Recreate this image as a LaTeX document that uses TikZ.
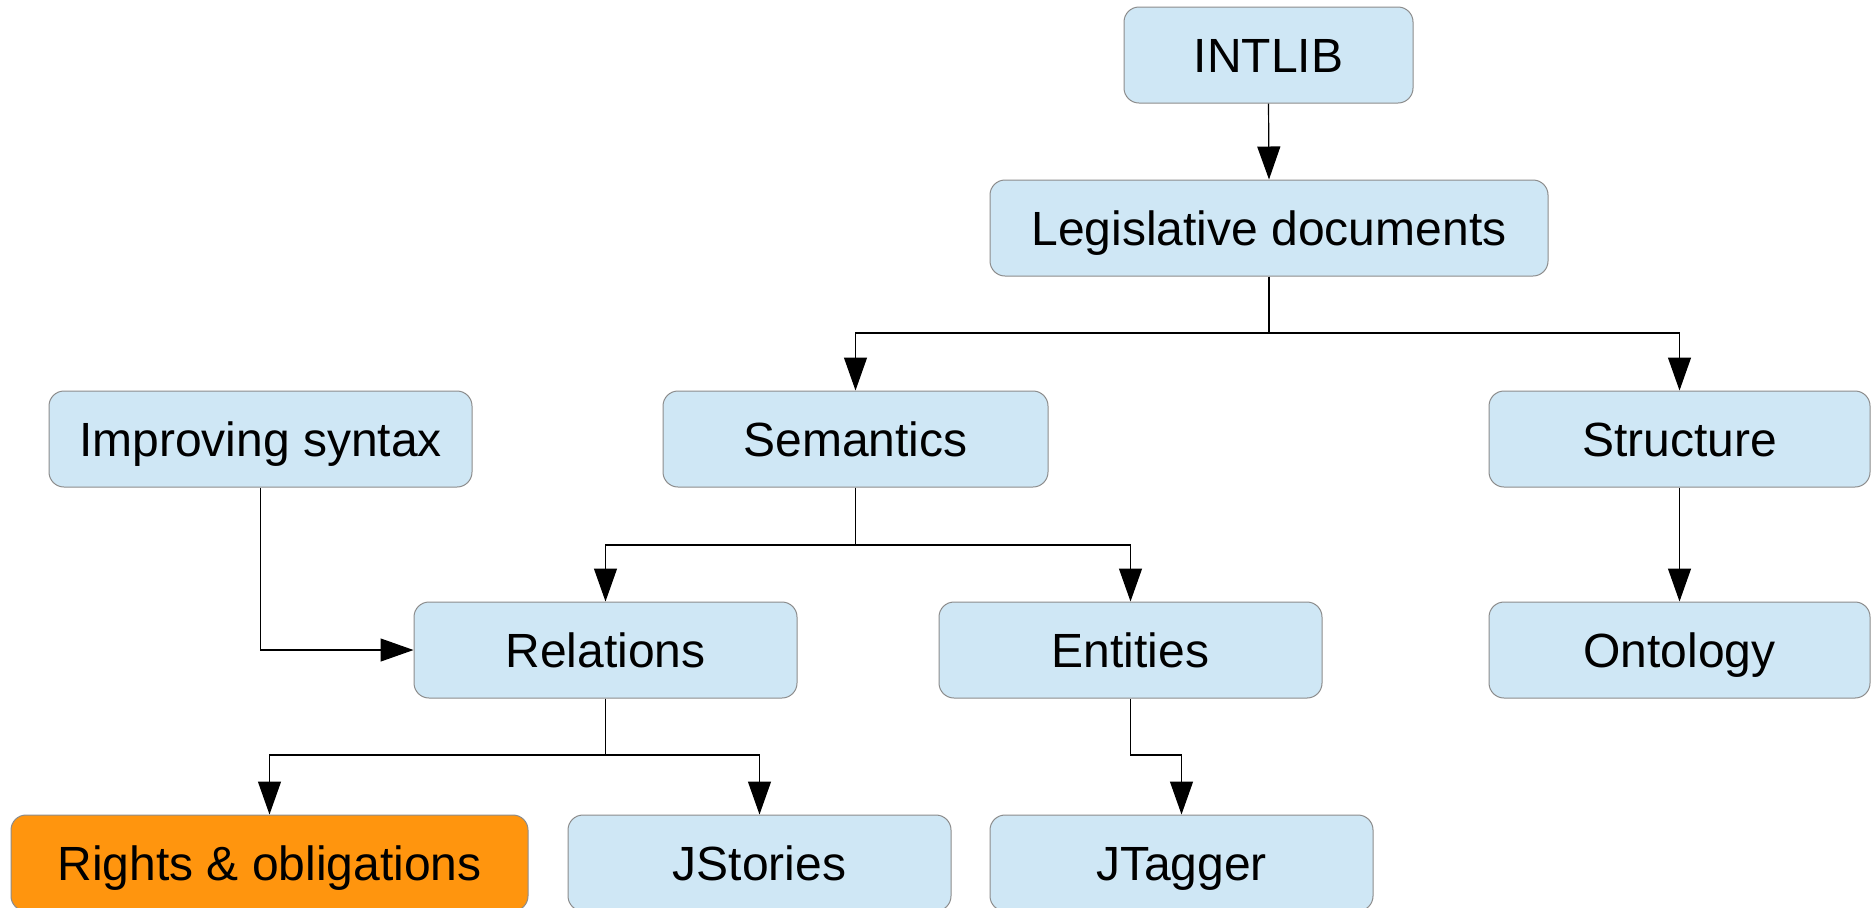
\documentclass[tikz,border=0pt]{standalone}
\usepackage{fontspec}
\setmainfont{Liberation Sans}
\usetikzlibrary{arrows.meta}
\definecolor{boxblue}{HTML}{CFE7F5}
\definecolor{boxorange}{HTML}{FF950E}
\definecolor{boxline}{HTML}{8C8C8C}
\begin{document}
\begin{tikzpicture}[x=0.5pt,y=-0.5pt,
  box/.style={draw=boxline, line width=0.5pt, fill=boxblue, rounded corners=7.5pt,
    minimum height=48pt, inner sep=0pt, text height=17.2pt, text depth=0pt,
    font=\fontsize{24pt}{28pt}\selectfont},
  hot/.style={box, fill=boxorange},
  conn/.style={draw=black, line width=0.6pt, -{Triangle[length=16.5pt,width=11.5pt]}}]
  \useasboundingbox (0,0) rectangle (1871,907);
  % tree of tasks
  \node[box, minimum width=144.5pt] (intlib) at (1268.5,55) {INTLIB};
  \node[box, minimum width=279pt] (legis) at (1269,228) {Legislative documents};
  \node[box, minimum width=211.5pt] (syntax) at (260.5,439) {Improving syntax};
  \node[box, minimum width=192.5pt] (sem) at (855.5,439) {Semantics};
  \node[box, minimum width=190.5pt] (struct) at (1679.5,439) {Structure};
  \node[box, minimum width=191.5pt] (rel) at (605.5,650) {Relations};
  \node[box, minimum width=191.5pt] (ent) at (1130.5,650) {Entities};
  \node[box, minimum width=190.5pt] (onto) at (1679.5,650) {Ontology};
  \node[hot, minimum width=258.5pt] (rights) at (269.5,863) {Rights \& obligations};
  \node[box, minimum width=191.5pt] (jstories) at (759.5,863) {JStories};
  \node[box, minimum width=191.5pt] (jtagger) at (1181.5,863) {JTagger};
  % connectors
  \draw[conn] (intlib.south) -- (legis.north);
  \draw[conn] (legis.south) |- (1269,333) -| (sem.north);
  \draw[conn] (legis.south) |- (1269,333) -| (struct.north);
  \draw[conn] (sem.south) |- (855.5,545) -| (rel.north);
  \draw[conn] (sem.south) |- (855.5,545) -| (ent.north);
  \draw[conn] (struct.south) -- (onto.north);
  \draw[conn] (syntax.south) |- (rel.west);
  \draw[conn] (rel.south) |- (605.5,755) -| (rights.north);
  \draw[conn] (rel.south) |- (605.5,755) -| (jstories.north);
  \draw[conn] (ent.south) |- (1130.5,755) -| (jtagger.north);
\end{tikzpicture}
\end{document}
